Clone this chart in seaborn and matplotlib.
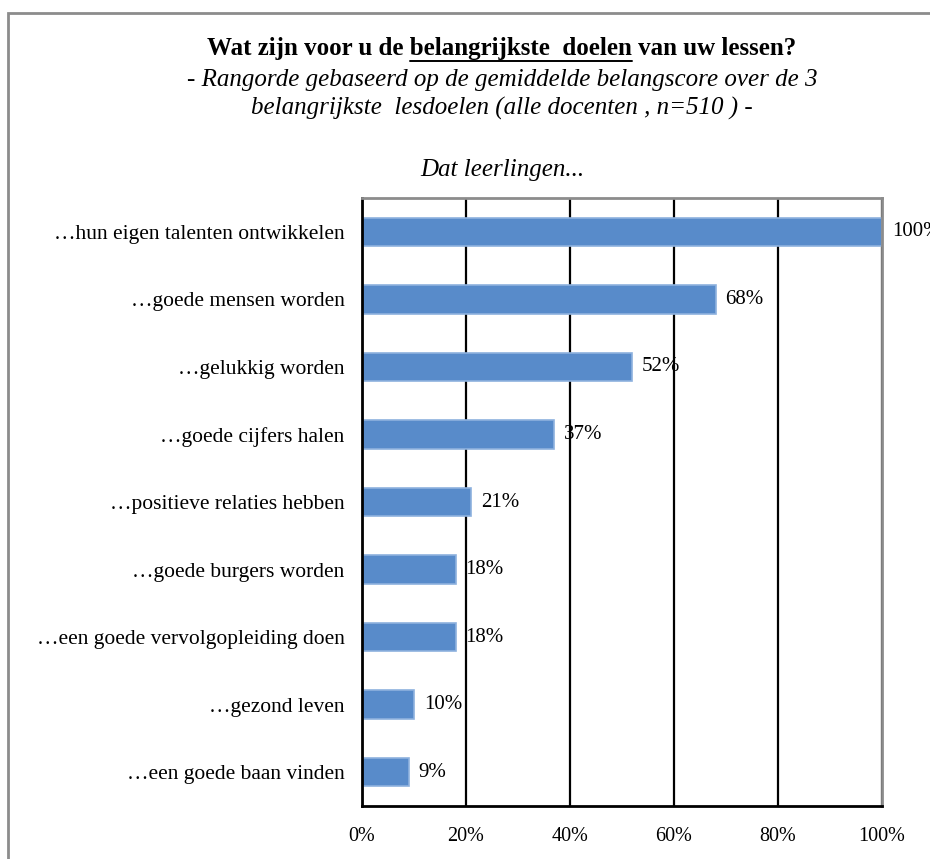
import matplotlib
matplotlib.use("Agg")
import matplotlib.pyplot as plt
import seaborn as sns
import pandas as pd
from matplotlib.lines import Line2D
from matplotlib.patches import Rectangle

categories = [
    "\u2026hun eigen talenten ontwikkelen",
    "\u2026goede mensen worden",
    "\u2026gelukkig worden",
    "\u2026goede cijfers halen",
    "\u2026positieve relaties hebben",
    "\u2026goede burgers worden",
    "\u2026een goede vervolgopleiding doen",
    "\u2026gezond leven",
    "\u2026een goede baan vinden",
]
values = [100, 68, 52, 37, 21, 18, 18, 10, 9]
x_ticks = [0, 20, 40, 60, 80, 100]
x_tick_labels = ["0%", "20%", "40%", "60%", "80%", "100%"]

title_prefix = "Wat zijn voor u de "
title_under = "belangrijkste  doelen"
title_suffix = " van uw lessen?"
subtitle1 = "- Rangorde gebaseerd op de gemiddelde belangscore over de 3"
subtitle2 = "belangrijkste  lesdoelen (alle docenten , n=510 ) -"
axis_title = "Dat leerlingen..."

sns.set_theme(style="white")
plt.rcParams["font.family"] = ["Liberation Serif", "DejaVu Serif"]
plt.rcParams["text.color"] = "black"
plt.rcParams["xtick.color"] = "black"
plt.rcParams["ytick.color"] = "black"

W, H = 930, 859
fig = plt.figure(figsize=(W / 100, H / 100), dpi=100)
fig.patch.set_facecolor("white")

L, R, T, B = 362, 882, 198, 806
ax = fig.add_axes([L / W, 1 - B / H, (R - L) / W, (B - T) / H])

df = pd.DataFrame({"cat": categories, "val": values})
sns.barplot(data=df, x="val", y="cat", orient="h", color="#588BCA",
            saturation=1, width=0.42, edgecolor="#8DB1DE", linewidth=1.2, ax=ax)

ax.set_xlim(0, 100)
ax.set_ylim(len(categories) - 0.5, -0.5)
ax.set_xticks(x_ticks)
ax.set_xticklabels(x_tick_labels, fontsize=14.5)
ax.tick_params(axis="x", length=0, pad=15)
ax.tick_params(axis="y", length=0, pad=12.5, labelsize=15.5)
ax.set_xlabel("")
ax.set_ylabel("")
ax.set_axisbelow(True)
ax.xaxis.grid(True, color="black", linewidth=1.6)
ax.yaxis.grid(False)
for s in ["left", "bottom"]:
    ax.spines[s].set_color("black")
    ax.spines[s].set_linewidth(2)
for s in ["top", "right"]:
    ax.spines[s].set_color("#8C8C8C")
    ax.spines[s].set_linewidth(2)

for i, v in enumerate(values):
    ax.annotate(f"{v}%", xy=(v, i), xytext=(7, 0), textcoords="offset points",
                va="center", ha="left", fontsize=15, annotation_clip=False)

# Outer frame
fig.patches.append(Rectangle((8 / W, -0.1), 1.2, 1 - 13 / H + 0.1,
                             transform=fig.transFigure, fill=False,
                             edgecolor="#8C8C8C", linewidth=2))

# Title line 1 with underlined part
cx = 502 / W
fs1 = 18
fig.canvas.draw()
rend = fig.canvas.get_renderer()
def width_px(s, **kw):
    t = fig.text(0, 0, s, **kw)
    w = t.get_window_extent(rend).width
    t.remove()
    return w
kw1 = dict(fontsize=fs1, fontweight="bold")
full = title_prefix + title_under + title_suffix
w_full = width_px(full, **kw1)
w_pu = width_px(title_prefix + title_under, **kw1)
w_u = width_px(title_under, **kw1)
y1 = 1 - 48 / H
fig.text(cx, y1, full, ha="center", va="center", **kw1)
x0 = cx * W - w_full / 2
ux1 = x0 + w_pu - w_u
ux2 = x0 + w_pu
uy = 1 - 61 / H
fig.add_artist(Line2D([ux1 / W, ux2 / W], [uy, uy], transform=fig.transFigure,
                      color="black", linewidth=1.4))

fig.text(cx, 1 - 80 / H, subtitle1, ha="center", va="center",
         fontsize=18, fontstyle="italic")
fig.text(cx, 1 - 108 / H, subtitle2, ha="center", va="center",
         fontsize=18, fontstyle="italic")
fig.text(cx, 1 - 170 / H, axis_title, ha="center", va="center",
         fontsize=18, fontstyle="italic")

fig.savefig("out.png", dpi=100, facecolor="white")
